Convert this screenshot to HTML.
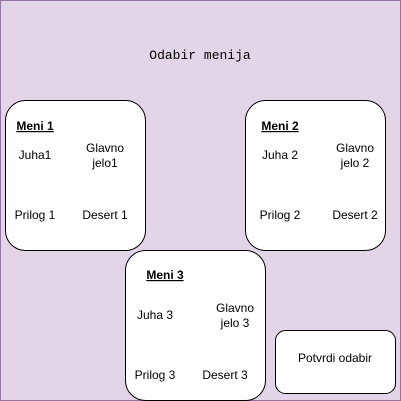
<!DOCTYPE html>
<html><head><style>body{margin:0;}svg{display:block}</style></head><body>
<svg width="401" height="401" xmlns="http://www.w3.org/2000/svg" font-family="Liberation Sans, Arial, sans-serif" font-size="12">
<rect x="0.5" y="0.5" width="400" height="400" fill="#e1d5e7" stroke="#9673a6"/>
<text x="200" y="59" text-anchor="middle" font-family="Liberation Mono, monospace" font-size="13">Odabir menija</text>
<g fill="#fff" stroke="#000">
<rect x="5.5" y="100.5" width="140" height="150" rx="20"/>
<rect x="245.5" y="100.5" width="140" height="150" rx="20"/>
<rect x="125.5" y="250.5" width="140" height="150" rx="20"/>
<rect x="275.5" y="330.5" width="120" height="63" rx="10"/>
</g>
<g text-anchor="middle">
<text x="35" y="130" font-weight="bold" text-decoration="underline">Meni 1</text>
<text x="35" y="159">Juha1</text>
<text x="105" y="152">Glavno</text><text x="105" y="167">jelo1</text>
<text x="35" y="219">Prilog 1</text>
<text x="105" y="219">Desert 1</text>
<text x="280" y="130" font-weight="bold" text-decoration="underline">Meni 2</text>
<text x="280" y="159">Juha 2</text>
<text x="355" y="152">Glavno</text><text x="355" y="167">jelo 2</text>
<text x="280" y="219">Prilog 2</text>
<text x="355" y="219">Desert 2</text>
<text x="165" y="279" font-weight="bold" text-decoration="underline">Meni 3</text>
<text x="155" y="319">Juha 3</text>
<text x="235" y="312">Glavno</text><text x="235" y="327">jelo 3</text>
<text x="155" y="379">Prilog 3</text>
<text x="225" y="379">Desert 3</text>
<text x="335" y="362">Potvrdi odabir</text>
</g>
</svg>
</body></html>
